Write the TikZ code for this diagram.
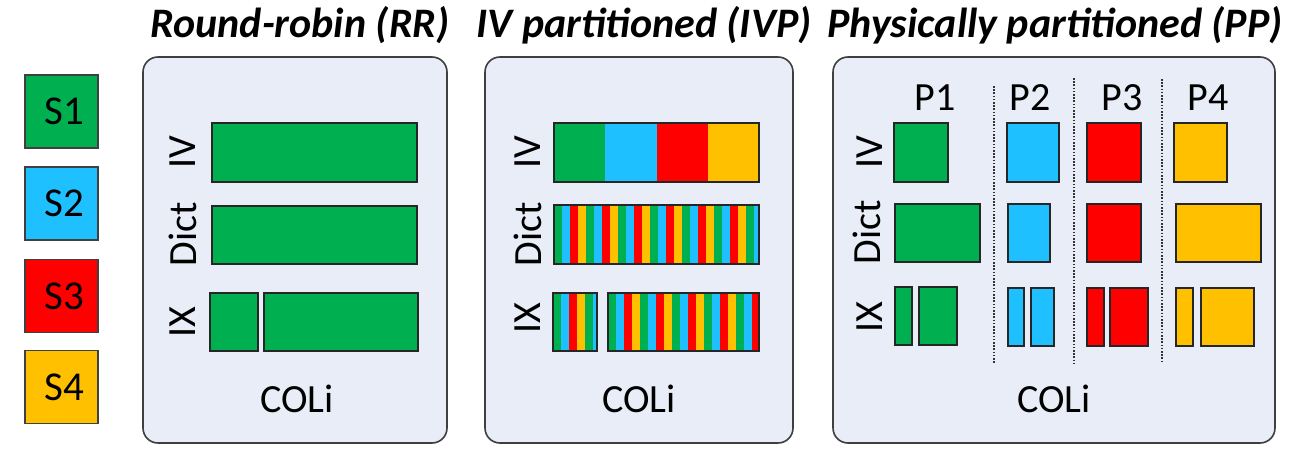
\documentclass[tikz,border=0pt]{standalone}
\usepackage{fontspec}
\setmainfont{Carlito}
\usetikzlibrary{positioning}

\definecolor{sgreen}{HTML}{00B050}
\definecolor{sblue}{HTML}{1FC0FF}
\definecolor{sred}{HTML}{FF0000}
\definecolor{syellow}{HTML}{FFC000}
\definecolor{panelbg}{HTML}{E8EDF7}
\definecolor{panelline}{HTML}{3F3F3F}
\colorlet{seg0}{sgreen}
\colorlet{seg1}{sblue}
\colorlet{seg2}{sred}
\colorlet{seg3}{syellow}

% striped bar: x1,y1,x2,y2 (pixel grid)
\newcommand{\stripebar}[4]{%
  \begin{scope}
    \clip (#1,#2) rectangle (#3,#4);
    \foreach \i [evaluate=\i as \c using {int(mod(\i,4))}] in {0,...,26}
      \fill[seg\c] ({#1+8*\i},#2) rectangle ({#1+8*\i+8},#4);
  \end{scope}
  \draw[bar] (#1,#2) rectangle (#3,#4);}

\begin{document}
\begin{tikzpicture}[
    x=0.5pt, y=-0.5pt,
    panel/.style = {draw=panelline, fill=panelbg, line width=0.8pt,
                    rounded corners=7.5pt},
    bar/.style   = {draw=black!85, line width=0.6pt},
    legend/.style = {draw=black!75, line width=0.6pt, minimum size=36.5pt,
                     inner sep=0pt, font=\fontsize{20.5}{24}\selectfont},
    title/.style = {anchor=base, font=\fontsize{21}{25}\selectfont\bfseries\itshape},
    lbl/.style   = {font=\fontsize{20}{24}\selectfont, inner sep=0pt},
    rowlbl/.style = {lbl, rotate=90},
    sep/.style   = {draw=black!80, line width=0.6pt, dash pattern=on 0.8pt off 0.8pt}
  ]
  \useasboundingbox (0,0) rectangle (1296,466);

  %–––– legend ––––
  \node[legend, fill=sgreen]  (S1) at (61.5,111.5) {\hspace{3pt}S1};
  \node[legend, fill=sblue]   (S2) at (61.5,203.5) {\hspace{3pt}S2};
  \node[legend, fill=sred]    (S3) at (61.5,296)   {\hspace{3pt}S3};
  \node[legend, fill=syellow] (S4) at (61.5,387)   {\hspace{3pt}S4};

  %–––– titles ––––
  \node[title] (tRR)  at (300,38)  {Round-robin (RR)};
  \node[title] (tIVP) at (644,38)  {IV partitioned (IVP)};
  \node[title] (tPP)  at (1055,38) {Physically partitioned (PP)};

  %–––– panels ––––
  \draw[panel] (143,57) rectangle (447,443);
  \draw[panel] (485,57) rectangle (793,443);
  \draw[panel] (833,57) rectangle (1275,443);

  %–––– round-robin ––––
  \node[rowlbl] (rrIV)   at (183,152) {IV};
  \node[rowlbl] (rrDict) at (183,234) {Dict};
  \node[rowlbl] (rrIX)   at (183,322) {IX};
  \draw[bar, fill=sgreen] (212,123) rectangle (417,182);
  \draw[bar, fill=sgreen] (212,206) rectangle (417,264);
  \draw[bar, fill=sgreen] (210,293) rectangle (258,351);
  \draw[bar, fill=sgreen] (264,293) rectangle (418,351);
  \node[lbl, anchor=base] (rrCOL) at (297,412) {COLi};

  %–––– IV partitioned ––––
  \node[rowlbl] (ivIV)   at (528,152) {IV};
  \node[rowlbl] (ivDict) at (528,234) {Dict};
  \node[rowlbl] (ivIX)   at (528,318) {IX};
  \fill[sgreen]  (554,123) rectangle (605,182);
  \fill[sblue]   (605,123) rectangle (657,182);
  \fill[sred]    (657,123) rectangle (708,182);
  \fill[syellow] (708,123) rectangle (759,182);
  \draw[bar] (554,123) rectangle (759,182);
  \stripebar{554}{205}{759}{264}
  \stripebar{553}{293}{597}{351}
  \stripebar{608}{293}{759}{351}
  \node[lbl, anchor=base] (ivCOL) at (639,412) {COLi};

  %–––– physically partitioned ––––
  \node[lbl, anchor=base] (P1) at (935,110)  {P1};
  \node[lbl, anchor=base] (P2) at (1030,110) {P2};
  \node[lbl, anchor=base] (P3) at (1122,110) {P3};
  \node[lbl, anchor=base] (P4) at (1208,110) {P4};
  \draw[sep] (994,86)  -- (994,363);
  \draw[sep] (1074,78) -- (1074,363);
  \draw[sep] (1162,79) -- (1162,363);

  \node[rowlbl] (ppIV)   at (870,152) {IV};
  \node[rowlbl] (ppDict) at (867,232) {Dict};
  \node[rowlbl] (ppIX)   at (870,317) {IX};

  % IV row
  \draw[bar, fill=sgreen]  (894,123)  rectangle (948,182);
  \draw[bar, fill=sblue]   (1007,123) rectangle (1059,182);
  \draw[bar, fill=sred]    (1087,123) rectangle (1141,182);
  \draw[bar, fill=syellow] (1174,123) rectangle (1227,182);
  % Dict row
  \draw[bar, fill=sgreen]  (895,204)  rectangle (980,262);
  \draw[bar, fill=sblue]   (1008,204) rectangle (1050,262);
  \draw[bar, fill=sred]    (1087,204) rectangle (1141,262);
  \draw[bar, fill=syellow] (1176,204) rectangle (1261,262);
  % IX row
  \draw[bar, fill=sgreen]  (895,287)  rectangle (912,345);
  \draw[bar, fill=sgreen]  (919,287)  rectangle (957,345);
  \draw[bar, fill=sblue]   (1008,288) rectangle (1024,346);
  \draw[bar, fill=sblue]   (1031,288) rectangle (1054,346);
  \draw[bar, fill=sred]    (1087,288) rectangle (1104,346);
  \draw[bar, fill=sred]    (1110,288) rectangle (1148,346);
  \draw[bar, fill=syellow] (1176,288) rectangle (1193,346);
  \draw[bar, fill=syellow] (1201,288) rectangle (1254,346);
  \node[lbl, anchor=base] (ppCOL) at (1054,412) {COLi};

\end{tikzpicture}
\end{document}
